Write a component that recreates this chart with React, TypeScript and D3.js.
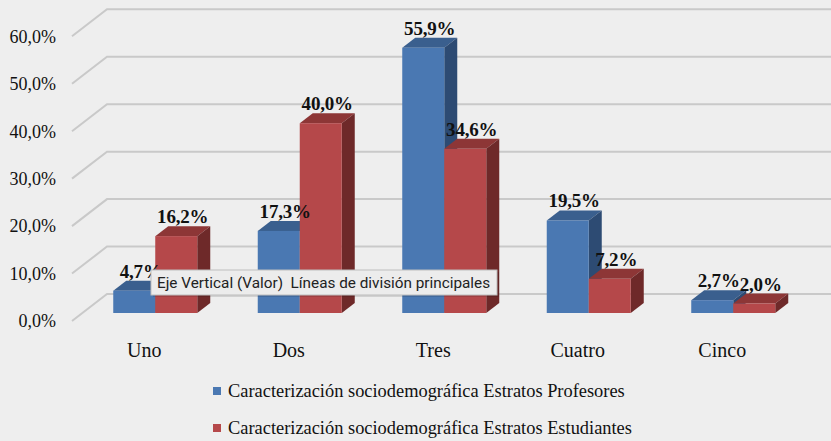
import * as d3 from 'd3';
import React from 'react';

const categories = ['Uno', 'Dos', 'Tres', 'Cuatro', 'Cinco'];
const series = [
  'Caracterización sociodemográfica Estratos Profesores',
  'Caracterización sociodemográfica Estratos Estudiantes',
];
const profesores = [4.7, 17.3, 55.9, 19.5, 2.7];
const estudiantes = [16.2, 40.0, 34.6, 7.2, 2.0];
const yTicks = [0, 10, 20, 30, 40, 50, 60];

const W = 831;
const H = 441;
// 3d offsets
const wallDX = 35, wallDY = -27;   // front floor -> back wall
const barDX = 11, barDY = -8;      // front floor -> bar plane
const depthDX = 13, depthDY = -10; // bar thickness

const colors = [
  { front: '#4a78b2', top: '#3a5f8e', side: '#2d4b73' },
  { front: '#b5484a', top: '#8d3636', side: '#6e2929' },
];

const fmt = (v: number) => v.toFixed(1).replace('.', ',') + '%';

function App() {
  const x = d3.scaleBand<string>().domain(categories).range([72, 794.5]);
  const y = d3.scaleLinear().domain([0, 60]).range([321, 36.3]);
  const sub = d3.scaleBand<number>().domain([0, 1]).range([-42, 42]);
  const values = [profesores, estudiantes];

  const bars: any[] = [];
  categories.forEach((c, i) => {
    values.forEach((vals, s) => {
      const v = vals[i];
      const x0 = x(c)! + x.bandwidth() / 2 + barDX + sub(s)!;
      const x1 = x0 + sub.bandwidth();
      const yb = y(0) + barDY;
      const yt = y(v) + barDY;
      bars.push({ c, s, v, x0, x1, yb, yt });
    });
  });

  const serif = '"Liberation Serif", "Times New Roman", serif';

  return (
    <svg width={W} height={H} style={{ position: 'absolute', left: 0, top: 0, background: '#eeeeee' }}>
      <rect width={W} height={H} fill="#eeeeee" />
      {yTicks.map((t) => {
        const yf = y(t);
        return (
          <g key={t}>
            <path
              d={`M72,${yf}L${72 + wallDX},${yf + wallDY}L${W},${yf + wallDY}`}
              fill="none" stroke="#c9c9c9" strokeWidth={2}
            />
            <text x={56} y={yf} dy="0.35em" textAnchor="end" fontFamily={serif} fontSize={18} fill="#111">
              {fmt(t)}
            </text>
          </g>
        );
      })}
      {bars.map((b, i) => {
        const col = colors[b.s];
        return (
          <g key={i}>
            <polygon
              points={`${b.x0},${b.yt} ${b.x0 + depthDX},${b.yt + depthDY} ${b.x1 + depthDX},${b.yt + depthDY} ${b.x1},${b.yt}`}
              fill={col.top}
            />
            <polygon
              points={`${b.x1},${b.yt} ${b.x1 + depthDX},${b.yt + depthDY} ${b.x1 + depthDX},${b.yb + depthDY} ${b.x1},${b.yb}`}
              fill={col.side}
            />
            <rect x={b.x0} y={b.yt} width={b.x1 - b.x0} height={b.yb - b.yt} fill={col.front} />
          </g>
        );
      })}
      {bars.map((b, i) => (
        <text
          key={'l' + i}
          x={(b.x0 + b.x1) / 2 + depthDX / 2}
          y={b.yt + depthDY - 3}
          textAnchor="middle"
          fontFamily={serif}
          fontWeight="bold"
          fontSize={19}
          letterSpacing={-0.2}
          fill="#111"
        >
          {fmt(b.v)}
        </text>
      ))}
      {categories.map((c) => (
        <text
          key={c}
          x={x(c)! + x.bandwidth() / 2}
          y={357}
          textAnchor="middle"
          fontFamily={serif}
          fontSize={20}
          fill="#111"
        >
          {c}
        </text>
      ))}
      {series.map((s, i) => (
        <g key={s} transform={`translate(213,${391 + i * 37})`}>
          <rect x={0} y={-4} width={8} height={8} fill={colors[i].front} />
          <text x={15} y={0} dy="0.35em" fontFamily={serif} fontSize={18.4} fill="#111">
            {s}
          </text>
        </g>
      ))}
      <g>
        <rect x={153} y={272} width={346} height={25} fill="#000" opacity={0.12} />
        <rect x={151} y={270} width={346} height={25} fill="#ececec" stroke="#bdbdbd" strokeWidth={1} />
        <text
          x={157}
          y={283}
          dy="0.35em"
          fontFamily="Roboto, 'DejaVu Sans', sans-serif"
          fontSize={15.3}
          fill="#222"
          style={{ whiteSpace: 'pre' }}
        >
          {'Eje Vertical (Valor)  Líneas de división principales'}
        </text>
      </g>
    </svg>
  );
}

export default App;
